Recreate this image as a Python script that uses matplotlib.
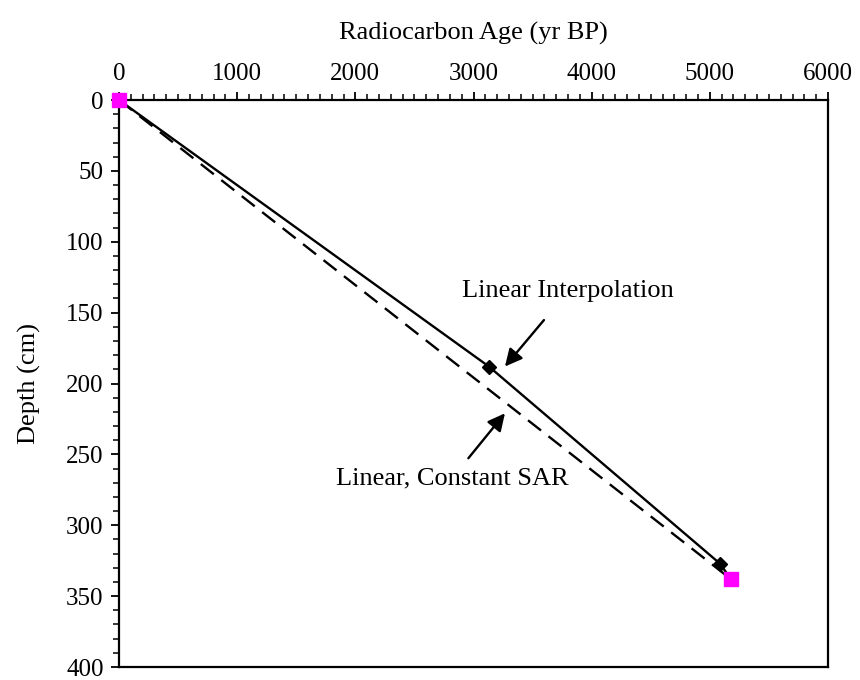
import numpy as np
import matplotlib
matplotlib.use("Agg")
import matplotlib.pyplot as plt
from matplotlib.ticker import MultipleLocator

plt.rcParams['font.family'] = ['Liberation Serif', 'DejaVu Serif']

# linear interpolation between dated levels
age_interp = [0, 3130, 5085, 5178]
depth_interp = [0, 188, 327, 338]
# constant SAR line
age_sar = [0, 5178]
depth_sar = [0, 338]
# dated points
age_dated = [3130, 5085]
depth_dated = [188, 327]
# end points (magenta)
age_end = [0, 5178]
depth_end = [0, 338]
age_err = [0, 40]
depth_err = [0, 3]

fig = plt.figure(figsize=(8.6, 6.8), dpi=100)
ax = fig.add_axes([0.1384, 0.0191, 0.8244, 0.8338])

ax.plot(age_interp, depth_interp, color="k", lw=1.7, zorder=3)
l, = ax.plot(age_sar, depth_sar, color="k", lw=1.7, zorder=2)
l.set_dashes((7, 4))
ax.plot(age_dated, depth_dated, ls="none", marker="D", ms=7, color="k", zorder=4)
ax.errorbar(age_end, depth_end, xerr=age_err, yerr=depth_err, fmt="s", ms=10,
            color="#ff00ff", ecolor="k", elinewidth=0.8, capsize=0, zorder=5, clip_on=False)

ax.set_xlim(0, 6000)
ax.set_ylim(400, 0)
ax.xaxis.tick_top()
ax.xaxis.set_label_position("top")
ax.xaxis.set_major_locator(MultipleLocator(1000))
ax.xaxis.set_minor_locator(MultipleLocator(100))
ax.yaxis.set_major_locator(MultipleLocator(50))
ax.yaxis.set_minor_locator(MultipleLocator(10))
ax.tick_params(which="major", direction="out", length=6, width=1.3, labelsize=18, pad=5)
ax.tick_params(which="minor", direction="out", length=4, width=1.1)
ax.tick_params(axis="x", which="both", top=True, bottom=False)
ax.tick_params(axis="y", which="both", left=True, right=False)
for s in ax.spines.values():
    s.set_linewidth(1.6)

ax.set_xlabel("Radiocarbon Age (yr BP)", fontsize=19, labelpad=17)
ax.set_ylabel("Depth (cm)", fontsize=19, labelpad=18)

ax.annotate("Linear Interpolation", xy=(3266, 188), xytext=(3800, 135),
            fontsize=19, ha="center", va="center",
            arrowprops=dict(arrowstyle="-|>", color="k", lw=1.7, mutation_scale=26,
                            shrinkA=14, shrinkB=0))
ax.annotate("Linear, Constant SAR", xy=(3266, 221), xytext=(2817, 267),
            fontsize=19, ha="center", va="center",
            arrowprops=dict(arrowstyle="-|>", color="k", lw=1.7, mutation_scale=26,
                            shrinkA=6, shrinkB=0))

fig.savefig("out.png", dpi=100)
